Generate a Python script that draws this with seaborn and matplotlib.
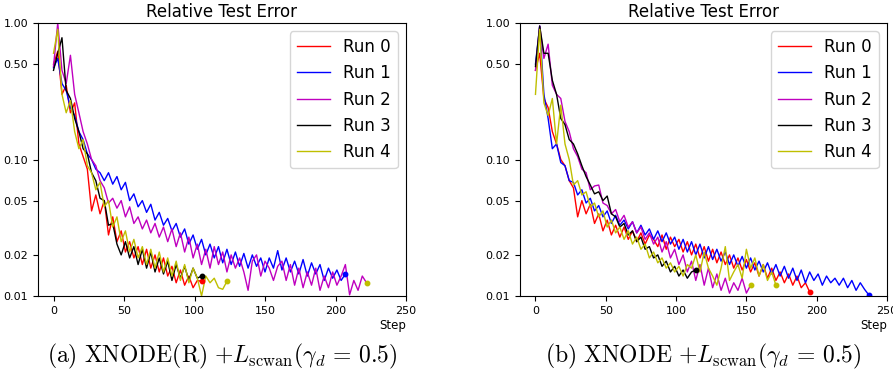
import numpy as np
import pandas as pd
import matplotlib
matplotlib.use("Agg")
import matplotlib.pyplot as plt
import seaborn as sns

# ---------------- data (sampled every STRIDE steps) ----------------
STRIDE = 3
runs = ["Run 0", "Run 1", "Run 2", "Run 3", "Run 4"]
colors = ["r", "b", "m", "k", "y"]
end_colors = ["r", "b", "y", "k", "y"]

# panel (a) XNODE(R)
a_run0 = [0.50, 0.62, 0.30, 0.35, 0.22, 0.26, 0.13, 0.105, 0.085, 0.042, 0.055, 0.040,
          0.050, 0.028, 0.038, 0.025, 0.030, 0.021, 0.025, 0.019, 0.023, 0.017, 0.022, 0.016,
          0.020, 0.015, 0.019, 0.014, 0.0165, 0.0125, 0.0155, 0.012, 0.014, 0.0115, 0.013, 0.0128]
a_run1 = [0.47, 0.55, 0.36, 0.32, 0.24, 0.21, 0.16, 0.14, 0.11, 0.10, 0.085, 0.080,
          0.070, 0.080, 0.066, 0.075, 0.060, 0.068, 0.050, 0.056, 0.045, 0.050, 0.041, 0.047,
          0.036, 0.041, 0.033, 0.037, 0.030, 0.034, 0.027, 0.031, 0.024, 0.028, 0.022, 0.026,
          0.020, 0.024, 0.019, 0.023, 0.0175, 0.022, 0.017, 0.021, 0.0165, 0.0205, 0.016, 0.020,
          0.0165, 0.019, 0.015, 0.019, 0.016, 0.0215, 0.0155, 0.019, 0.015, 0.018, 0.0145, 0.0185,
          0.014, 0.0175, 0.0145, 0.017, 0.013, 0.016, 0.0135, 0.0155, 0.013, 0.0145]
a_run2 = [0.48, 1.0, 0.45, 0.36, 0.58, 0.30, 0.22, 0.16, 0.13, 0.10, 0.09, 0.070,
          0.062, 0.048, 0.052, 0.044, 0.050, 0.038, 0.045, 0.034, 0.038, 0.031, 0.036, 0.029,
          0.034, 0.027, 0.032, 0.025, 0.031, 0.023, 0.029, 0.021, 0.027, 0.019, 0.024, 0.017,
          0.022, 0.016, 0.023, 0.017, 0.021, 0.015, 0.020, 0.016, 0.019, 0.015, 0.011, 0.018,
          0.020, 0.014, 0.018, 0.016, 0.013, 0.0165, 0.018, 0.013, 0.017, 0.012, 0.016, 0.0115,
          0.015, 0.012, 0.016, 0.011, 0.014, 0.0115, 0.015, 0.012, 0.014, 0.017, 0.0102, 0.013,
          0.011, 0.014, 0.0125]
a_run3 = [0.45, 0.60, 0.78, 0.32, 0.28, 0.20, 0.16, 0.12, 0.11, 0.080, 0.070, 0.052,
          0.050, 0.033, 0.034, 0.024, 0.020, 0.025, 0.019, 0.023, 0.017, 0.022, 0.016, 0.021,
          0.015, 0.019, 0.0145, 0.018, 0.013, 0.017, 0.0135, 0.0165, 0.013, 0.016, 0.0135, 0.014]
a_run4 = [0.60, 0.90, 0.30, 0.22, 0.27, 0.16, 0.12, 0.14, 0.09, 0.080, 0.060, 0.068,
          0.045, 0.050, 0.032, 0.038, 0.025, 0.030, 0.021, 0.026, 0.019, 0.023, 0.017, 0.022,
          0.016, 0.021, 0.015, 0.019, 0.014, 0.018, 0.013, 0.017, 0.0125, 0.016, 0.0135, 0.010,
          0.014, 0.0125, 0.0135, 0.0115, 0.0112, 0.0128]

# panel (b) XNODE
b_run0 = [0.45, 0.60, 0.28, 0.24, 0.16, 0.13, 0.10, 0.09, 0.07, 0.062, 0.038, 0.050,
          0.040, 0.047, 0.034, 0.040, 0.030, 0.036, 0.028, 0.033, 0.027, 0.032, 0.026, 0.030,
          0.025, 0.029, 0.024, 0.028, 0.026, 0.023, 0.028, 0.022, 0.027, 0.023, 0.026, 0.021,
          0.025, 0.020, 0.024, 0.019, 0.023, 0.018, 0.022, 0.0175, 0.021, 0.017, 0.020, 0.016,
          0.019, 0.0155, 0.0185, 0.015, 0.0175, 0.014, 0.017, 0.0135, 0.016, 0.013, 0.015, 0.0125,
          0.0145, 0.012, 0.014, 0.0115, 0.0125, 0.0107]
b_run1 = [0.50, 0.95, 0.30, 0.20, 0.12, 0.13, 0.095, 0.09, 0.07, 0.068, 0.055, 0.060,
          0.048, 0.052, 0.042, 0.046, 0.038, 0.042, 0.034, 0.039, 0.033, 0.036, 0.031, 0.035,
          0.029, 0.033, 0.028, 0.031, 0.026, 0.030, 0.025, 0.029, 0.024, 0.027, 0.022, 0.026,
          0.021, 0.025, 0.020, 0.024, 0.019, 0.023, 0.0185, 0.022, 0.018, 0.021, 0.017, 0.020,
          0.0165, 0.0195, 0.016, 0.019, 0.0155, 0.018, 0.015, 0.0175, 0.0145, 0.017, 0.014, 0.0165,
          0.0135, 0.016, 0.013, 0.0155, 0.0125, 0.015, 0.013, 0.0145, 0.012, 0.014, 0.0125, 0.0135,
          0.012, 0.0135, 0.0115, 0.013, 0.011, 0.0125, 0.0112, 0.0102]
b_run2 = [0.45, 0.95, 0.55, 0.70, 0.35, 0.30, 0.28, 0.19, 0.16, 0.12, 0.105, 0.085,
          0.080, 0.060, 0.064, 0.065, 0.048, 0.046, 0.040, 0.043, 0.035, 0.039, 0.032, 0.035,
          0.029, 0.032, 0.026, 0.029, 0.024, 0.027, 0.021, 0.025, 0.019, 0.022, 0.017, 0.020,
          0.015, 0.018, 0.013, 0.017, 0.012, 0.016, 0.0115, 0.0145, 0.011, 0.0135, 0.0105, 0.0125,
          0.011, 0.0135, 0.0105, 0.012]
b_run3 = [0.48, 0.95, 0.60, 0.60, 0.38, 0.30, 0.20, 0.18, 0.14, 0.13, 0.11, 0.09,
          0.075, 0.065, 0.056, 0.058, 0.050, 0.054, 0.040, 0.038, 0.032, 0.034, 0.028, 0.030,
          0.025, 0.027, 0.022, 0.023, 0.019, 0.020, 0.0165, 0.018, 0.015, 0.0165, 0.014, 0.0155,
          0.0135, 0.015, 0.0155]
b_run4 = [0.30, 0.90, 0.26, 0.21, 0.28, 0.13, 0.25, 0.13, 0.10, 0.065, 0.070, 0.055,
          0.058, 0.045, 0.048, 0.038, 0.042, 0.032, 0.036, 0.029, 0.032, 0.026, 0.030, 0.024,
          0.027, 0.022, 0.024, 0.019, 0.021, 0.0175, 0.019, 0.016, 0.0175, 0.015, 0.0165, 0.014,
          0.017, 0.016, 0.020, 0.015, 0.021, 0.016, 0.014, 0.012, 0.016, 0.023, 0.013, 0.015,
          0.017, 0.0135, 0.022, 0.016, 0.019, 0.014, 0.017, 0.013, 0.015, 0.012]

panel_a = [a_run0, a_run1, a_run2, a_run3, a_run4]
panel_b = [b_run0, b_run1, b_run2, b_run3, b_run4]
ytick_vals = [0.01, 0.02, 0.05, 0.10, 0.50, 1.00]
ytick_labels = ["0.01", "0.02", "0.05", "0.10", "0.50", "1.00"]
xtick_vals = [0, 50, 100, 150, 200, 250]
captions = [r"$\mathrm{(a)\ XNODE(R)}\ {+}L_{\mathrm{scwan}}(\gamma_d\,=\,0.5)$",
            r"$\mathrm{(b)\ XNODE}\ {+}L_{\mathrm{scwan}}(\gamma_d\,=\,0.5)$"]

# ---------------- plotting ----------------
plt.rcParams["mathtext.fontset"] = "cm"
plt.rcParams["font.family"] = ["DejaVu Sans"]

fig = plt.figure(figsize=(8.93, 3.73), dpi=100)
ax_a = fig.add_axes([38 / 893, 77 / 373, 368 / 893, 273 / 373])
ax_b = fig.add_axes([520 / 893, 77 / 373, 367 / 893, 273 / 373])


def long_frame(panel):
    rows = []
    for name, vals in zip(runs, panel):
        steps = np.arange(len(vals)) * STRIDE
        for s, v in zip(steps, vals):
            rows.append((name, s, v))
    return pd.DataFrame(rows, columns=["Run", "Step", "Error"])


for ax, panel, cap in zip([ax_a, ax_b], [panel_a, panel_b], captions):
    df = long_frame(panel)
    sns.lineplot(data=df, x="Step", y="Error", hue="Run", palette=dict(zip(runs, colors)),
                 linewidth=1.0, ax=ax, estimator=None, sort=False)
    for name, ec in zip(runs, end_colors):
        last = df[df["Run"] == name].iloc[-1]
        ax.plot([last["Step"]], [last["Error"]], "o", color=ec, ms=3.2)
    ax.set_yscale("log")
    ax.set_ylim(0.01, 1.0)
    ax.set_xlim(-11, 250)
    ax.set_yticks(ytick_vals)
    ax.set_yticklabels(ytick_labels)
    ax.yaxis.set_minor_locator(matplotlib.ticker.NullLocator())
    ax.set_xticks(xtick_vals)
    ax.tick_params(labelsize=8, length=3.5, width=0.8)
    ax.set_title("Relative Test Error", fontsize=12, pad=4)
    ax.set_xlabel("Step", loc="right", fontsize=8.5, labelpad=2)
    ax.set_ylabel("")
    leg = ax.legend(loc="upper right", fontsize=12, handlelength=2.0, borderaxespad=0.5)
    for line in leg.get_lines():
        line.set_linewidth(1.0)
    pos = ax.get_position()
    fig.text(pos.x0 + pos.width / 2, 0.045, cap, ha="center", va="center", fontsize=17)

fig.savefig("out.png", dpi=100)
